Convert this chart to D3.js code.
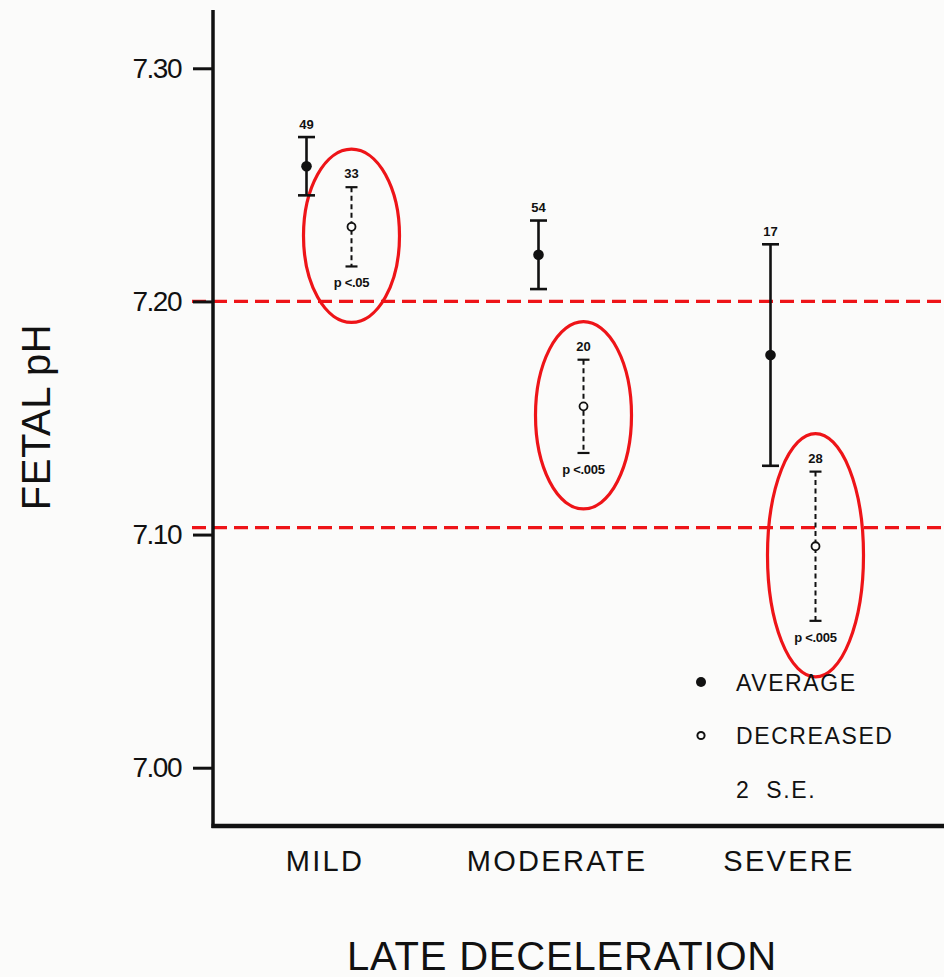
<!DOCTYPE html>
<html>
<head>
<meta charset="utf-8">
<script src="https://cdn.jsdelivr.net/npm/d3@7"></script>
<style>
  html, body { margin: 0; padding: 0; background: #fbfbfa; }
  svg { display: block; }
  text { font-family: "Liberation Sans", Arial, sans-serif; fill: #111; }
</style>
</head>
<body>
<svg id="chart" width="944" height="977"></svg>
<script>
// Fetal pH by grade of late deceleration (mean ± 2 S.E.)
const categories = ["MILD", "MODERATE", "SEVERE"];

const averageMean = [7.258, 7.220, 7.177];
const averageSE2  = [0.0125, 0.0147, 0.0475];
const averageN    = [49, 54, 17];

const decreasedMean = [7.232, 7.155, 7.095];
const decreasedSE2  = [0.017, 0.020, 0.032];
const decreasedN    = [33, 20, 28];
const pLabels       = ["p <.05", "p <.005", "p <.005"];

const yTicks   = [7.00, 7.10, 7.20, 7.30];
const refLines = [7.20, 7.103];

const legendItems = ["AVERAGE", "DECREASED", "2  S.E."];

const red = "#ee1418";
const ink = "#111";

const svg = d3.select("#chart");
const W = 944, H = 977;

const y = d3.scaleLinear().domain([6.975, 7.325]).range([826, 10]);
const x = d3.scalePoint().domain(categories).range([329, 793]);
const sub = d3.scalePoint().domain(["average", "decreased"]).range([-22.5, 22.5]);

const axisX0 = 213;

// red dashed reference lines
svg.append("g").selectAll("line").data(refLines).join("line")
  .attr("x1", 192).attr("x2", W)
  .attr("y1", d => y(d)).attr("y2", d => y(d))
  .attr("stroke", red).attr("stroke-width", 3.2)
  .attr("stroke-dasharray", "14,7");

// y axis
const yAxis = d3.axisLeft(y).tickValues(yTicks).tickSize(20).tickPadding(12)
  .tickFormat(d3.format(".2f"));
const gy = svg.append("g").attr("transform", `translate(${axisX0},0)`).call(yAxis);
gy.select(".domain").remove();
gy.selectAll(".tick line").attr("stroke", ink).attr("stroke-width", 3);
gy.selectAll(".tick text").attr("fill", ink)
  .style("font-family", "'Liberation Sans', Arial, sans-serif")
  .style("font-size", "28px").style("letter-spacing", "-1.5px");

svg.append("line")
  .attr("x1", axisX0).attr("x2", axisX0)
  .attr("y1", y(7.325)).attr("y2", y(6.975) + 2)
  .attr("stroke", ink).attr("stroke-width", 3.5);

// x axis baseline
svg.append("line")
  .attr("x1", axisX0 - 1.5).attr("x2", W)
  .attr("y1", y(6.975)).attr("y2", y(6.975))
  .attr("stroke", ink).attr("stroke-width", 4.5);

// category labels
svg.append("g").selectAll("text").data(categories).join("text")
  .attr("x", d => x(d) - 4).attr("y", 871)
  .attr("text-anchor", "middle")
  .style("font-size", "29px").style("letter-spacing", "2.3px")
  .text(d => d);

// axis titles
svg.append("text")
  .attr("x", 562).attr("y", 970)
  .attr("text-anchor", "middle")
  .style("font-size", "40px").style("letter-spacing", "0.8px")
  .text("LATE DECELERATION");

svg.append("text")
  .attr("transform", "translate(50,417) rotate(-90)")
  .attr("text-anchor", "middle")
  .style("font-size", "40px").style("letter-spacing", "0.5px")
  .text("FETAL pH");

// build the point records
const avg = categories.map((c, i) => ({ c, m: averageMean[i], e: averageSE2[i], n: averageN[i] }));
const dec = categories.map((c, i) => ({ c, m: decreasedMean[i], e: decreasedSE2[i], n: decreasedN[i], p: pLabels[i] }));

// red ellipses around the decreased group
svg.append("g").selectAll("ellipse").data(dec).join("ellipse")
  .attr("cx", d => x(d.c) + sub("decreased"))
  .attr("cy", d => (y(d.m + d.e) + y(d.m - d.e)) / 2 + 9)
  .attr("rx", 48)
  .attr("ry", d => (y(d.m - d.e) - y(d.m + d.e)) / 2 + 47)
  .attr("fill", "none").attr("stroke", red).attr("stroke-width", 3.2);

// average: solid error bars and filled dots
const ga = svg.append("g");
avg.forEach(d => {
  const cx = x(d.c) + sub("average");
  const g = ga.append("g");
  g.append("line").attr("x1", cx).attr("x2", cx)
    .attr("y1", y(d.m + d.e)).attr("y2", y(d.m - d.e))
    .attr("stroke", ink).attr("stroke-width", 2.6);
  [d.m + d.e, d.m - d.e].forEach(v => {
    g.append("line").attr("x1", cx - 8.5).attr("x2", cx + 8.5)
      .attr("y1", y(v)).attr("y2", y(v))
      .attr("stroke", ink).attr("stroke-width", 2.6);
  });
  g.append("circle").attr("cx", cx).attr("cy", y(d.m)).attr("r", 5.3).attr("fill", ink);
  g.append("text").attr("x", cx).attr("y", y(d.m + d.e) - 8.5)
    .attr("text-anchor", "middle")
    .style("font-size", "13px").style("font-weight", "bold")
    .text(d.n);
});

// decreased: dashed error bars and open circles
const gd = svg.append("g");
dec.forEach(d => {
  const cx = x(d.c) + sub("decreased");
  const g = gd.append("g");
  g.append("line").attr("x1", cx).attr("x2", cx)
    .attr("y1", y(d.m + d.e)).attr("y2", y(d.m - d.e))
    .attr("stroke", ink).attr("stroke-width", 2)
    .attr("stroke-dasharray", "5,3.5");
  [d.m + d.e, d.m - d.e].forEach(v => {
    g.append("line").attr("x1", cx - 6).attr("x2", cx + 6)
      .attr("y1", y(v)).attr("y2", y(v))
      .attr("stroke", ink).attr("stroke-width", 2.2);
  });
  g.append("circle").attr("cx", cx).attr("cy", y(d.m)).attr("r", 4)
    .attr("fill", "#fbfbfa").attr("stroke", ink).attr("stroke-width", 1.8);
  g.append("text").attr("x", cx).attr("y", y(d.m + d.e) - 9)
    .attr("text-anchor", "middle")
    .style("font-size", "13px").style("font-weight", "bold")
    .text(d.n);
  g.append("text").attr("x", cx).attr("y", y(d.m - d.e) + 21)
    .attr("text-anchor", "middle")
    .style("font-size", "13px").style("font-weight", "bold")
    .style("letter-spacing", "-0.3px")
    .text(d.p);
});

// legend
const lg = svg.append("g").attr("transform", "translate(701,682)");
const rowGap = 53.5;
lg.append("circle").attr("cx", 0).attr("cy", 0).attr("r", 5).attr("fill", ink);
lg.append("circle").attr("cx", 0).attr("cy", rowGap).attr("r", 3.6)
  .attr("fill", "none").attr("stroke", ink).attr("stroke-width", 2);
lg.selectAll("text").data(legendItems).join("text")
  .attr("x", 35).attr("y", (d, i) => i * rowGap + 8.5)
  .style("font-size", "23px").style("letter-spacing", "1.6px")
  .style("white-space", "pre")
  .text(d => d);
</script>
</body>
</html>
